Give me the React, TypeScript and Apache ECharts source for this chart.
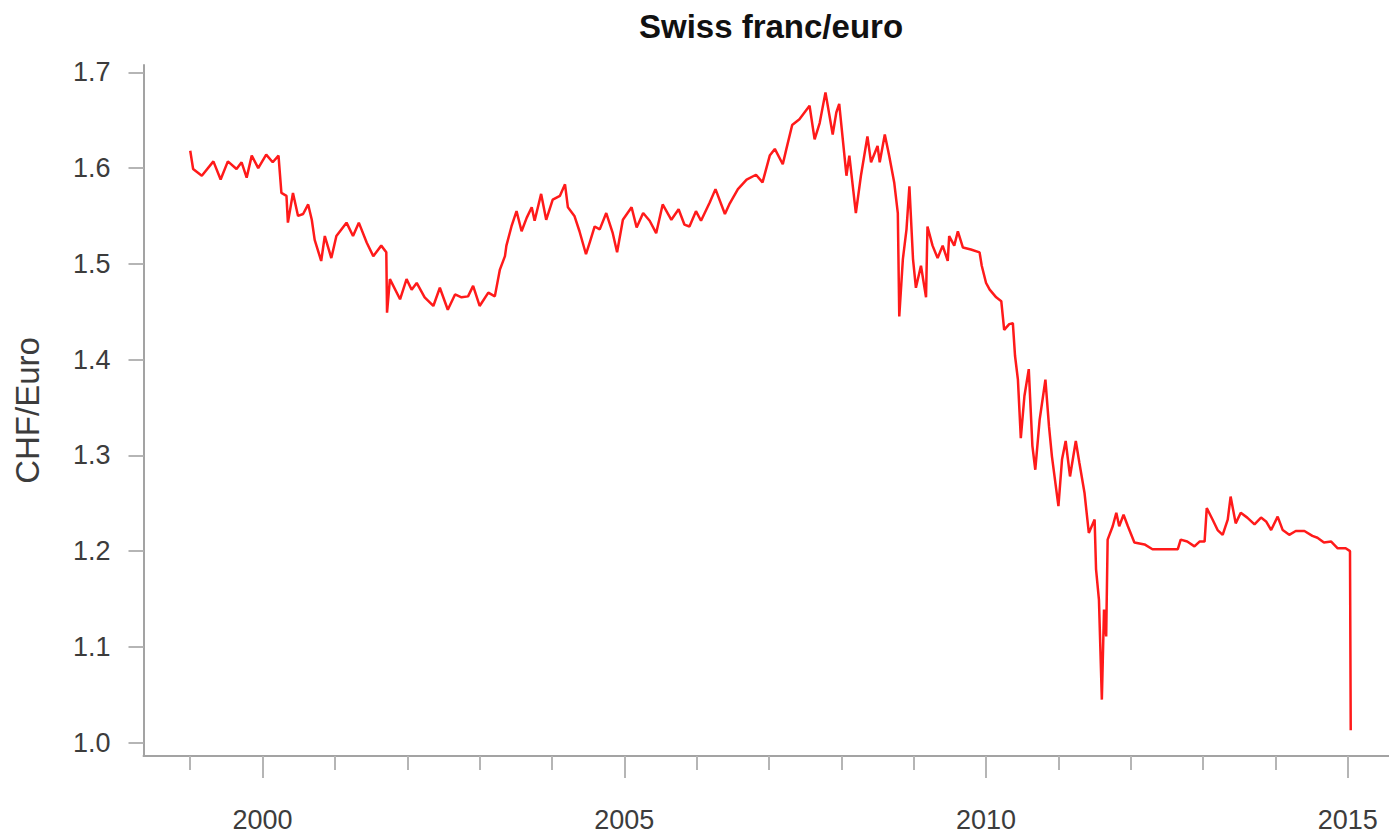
import React, { useEffect, useRef } from "react";
import * as echarts from "echarts";

const years: number[] = [
  1999.0, 1999.04, 1999.16, 1999.32, 1999.42, 1999.52, 1999.64, 1999.71, 1999.78, 1999.85, 1999.94,
  2000.05, 2000.14, 2000.22, 2000.26, 2000.33, 2000.35, 2000.42, 2000.49, 2000.56, 2000.63, 2000.68,
  2000.72, 2000.81, 2000.86, 2000.95, 2001.02, 2001.16, 2001.25, 2001.33, 2001.44, 2001.53, 2001.64,
  2001.71, 2001.72, 2001.76, 2001.9, 2001.99, 2002.06, 2002.13, 2002.24, 2002.36, 2002.45, 2002.56,
  2002.66, 2002.75, 2002.84, 2002.91, 2003.0, 2003.12, 2003.21, 2003.28, 2003.35, 2003.37, 2003.44,
  2003.51, 2003.58, 2003.65, 2003.72, 2003.76, 2003.85, 2003.92, 2004.01, 2004.11, 2004.18, 2004.22,
  2004.31, 2004.38, 2004.47, 2004.52, 2004.59, 2004.66, 2004.75, 2004.84, 2004.9, 2004.98, 2005.1,
  2005.17, 2005.26, 2005.35, 2005.44, 2005.53, 2005.65, 2005.75, 2005.83, 2005.9, 2005.99, 2006.06,
  2006.18, 2006.26, 2006.39, 2006.45, 2006.57, 2006.69, 2006.82, 2006.91, 2007.01, 2007.08, 2007.19,
  2007.24, 2007.32, 2007.42, 2007.49, 2007.56, 2007.63, 2007.7, 2007.78, 2007.88, 2007.93, 2007.97,
  2008.07, 2008.11, 2008.2, 2008.27, 2008.36, 2008.41, 2008.5, 2008.53, 2008.6, 2008.66, 2008.73,
  2008.78, 2008.8, 2008.85, 2008.9, 2008.94, 2008.99, 2009.03, 2009.1, 2009.17, 2009.19, 2009.26,
  2009.33, 2009.4, 2009.47, 2009.49, 2009.56, 2009.61, 2009.68, 2009.79, 2009.91, 2009.94, 2010.0,
  2010.05, 2010.14, 2010.21, 2010.25, 2010.32, 2010.37, 2010.4, 2010.44, 2010.48, 2010.53, 2010.59,
  2010.64, 2010.68, 2010.74, 2010.82, 2010.87, 2010.91, 2011.0, 2011.05, 2011.1, 2011.16, 2011.24,
  2011.29, 2011.36, 2011.42, 2011.5, 2011.52, 2011.56, 2011.6, 2011.63, 2011.66, 2011.68, 2011.75,
  2011.8, 2011.84, 2011.9, 2011.96, 2012.05, 2012.19, 2012.3, 2012.65, 2012.69, 2012.78, 2012.88,
  2012.95, 2013.02, 2013.05, 2013.13, 2013.2, 2013.27, 2013.34, 2013.38, 2013.45, 2013.52, 2013.61,
  2013.71, 2013.8, 2013.87, 2013.94, 2014.03, 2014.1, 2014.19, 2014.28, 2014.4, 2014.51, 2014.58,
  2014.67, 2014.77, 2014.86, 2014.97, 2015.03, 2015.04,
];

// CHF per euro at each observation
const rates: number[] = [
  1.618, 1.599, 1.592, 1.607, 1.588, 1.607, 1.599, 1.606, 1.59, 1.613, 1.6,
  1.614, 1.606, 1.613, 1.574, 1.571, 1.543, 1.574, 1.55, 1.552, 1.562, 1.546,
  1.525, 1.503, 1.529, 1.506, 1.529, 1.543, 1.529, 1.543, 1.522, 1.508, 1.519,
  1.512, 1.449, 1.484, 1.463, 1.484, 1.473, 1.48, 1.465, 1.456, 1.475, 1.452,
  1.468, 1.465, 1.466, 1.477, 1.456, 1.47, 1.466, 1.494, 1.508, 1.519, 1.539,
  1.555, 1.534, 1.548, 1.559, 1.545, 1.573, 1.546, 1.567, 1.571, 1.583, 1.559,
  1.55, 1.534, 1.51, 1.522, 1.539, 1.536, 1.553, 1.532, 1.512, 1.546, 1.559,
  1.538, 1.553, 1.545, 1.532, 1.562, 1.546, 1.557, 1.541, 1.539, 1.555, 1.545,
  1.564, 1.578, 1.552, 1.562, 1.578, 1.588, 1.593, 1.585, 1.613, 1.62, 1.604,
  1.62, 1.645, 1.651, 1.658, 1.665, 1.63, 1.647, 1.679, 1.635, 1.658, 1.667,
  1.592, 1.613, 1.553, 1.592, 1.633, 1.606, 1.623, 1.606, 1.635, 1.613, 1.585,
  1.553, 1.445, 1.505, 1.536, 1.581, 1.505, 1.475, 1.498, 1.465, 1.539, 1.519,
  1.506, 1.519, 1.503, 1.529, 1.519, 1.534, 1.517, 1.515, 1.512, 1.498, 1.48,
  1.473, 1.465, 1.461, 1.431, 1.437, 1.438, 1.404, 1.379, 1.318, 1.362, 1.39,
  1.31, 1.285, 1.337, 1.379, 1.33, 1.299, 1.247, 1.296, 1.315, 1.278, 1.315,
  1.292, 1.261, 1.219, 1.233, 1.181, 1.149, 1.045, 1.139, 1.111, 1.212, 1.226,
  1.24, 1.226, 1.238, 1.226, 1.209, 1.207, 1.202, 1.202, 1.212, 1.21, 1.205,
  1.21, 1.21, 1.245, 1.233, 1.222, 1.217, 1.233, 1.257, 1.229, 1.24, 1.235,
  1.228, 1.235, 1.231, 1.222, 1.236, 1.222, 1.217, 1.221, 1.221, 1.216, 1.214,
  1.209, 1.21, 1.203, 1.203, 1.2, 1.013,
];

const yearTicks: number[] = [1999, 2000, 2001, 2002, 2003, 2004, 2005, 2006, 2007, 2008, 2009, 2010, 2011, 2012, 2013, 2014, 2015];
const yearLabels: number[] = [2000, 2005, 2010, 2015];
const rateTicks: number[] = [1.0, 1.1, 1.2, 1.3, 1.4, 1.5, 1.6, 1.7];

const FONT = "'Liberation Sans', Arial, Helvetica, sans-serif";
const AXIS_GRAY = "#a3a3a3";
const LABEL_COLOR = "#3c3c3c";

export default function App() {
  const ref = useRef<HTMLDivElement>(null);

  useEffect(() => {
    if (!ref.current) return;
    const chart = echarts.init(ref.current, undefined, { renderer: "svg" });
    const data = years.map((y, i) => [y, rates[i]]);
    const xMin = 1998.354;
    const xMax = 2015.569;
    chart.setOption({
      animation: false,
      backgroundColor: "#ffffff",
      title: {
        text: "Swiss franc/euro",
        left: 766,
        top: 5,
        textAlign: "center",
        textStyle: { fontFamily: FONT, fontSize: 33, fontWeight: "bold", color: "#111111" },
      },
      grid: { left: 143.5, right: 0, top: 65, bottom: 81, containLabel: false },
      xAxis: [
        {
          type: "value",
          position: "bottom",
          min: xMin,
          max: xMax,
          axisLine: { show: true, onZero: false, lineStyle: { color: AXIS_GRAY, width: 2 } },
          axisTick: { show: true, customValues: yearTicks, length: 14, lineStyle: { color: "#b5b5b5", width: 2 } },
          axisLabel: { show: false },
          splitLine: { show: false },
        },
        {
          type: "value",
          position: "bottom",
          min: xMin,
          max: xMax,
          axisLine: { show: false, onZero: false },
          axisTick: { show: true, customValues: yearLabels, length: 22, lineStyle: { color: "#b5b5b5", width: 2 } },
          axisLabel: {
            show: true,
            customValues: yearLabels,
            margin: 50,
            fontSize: 27,
            fontFamily: FONT,
            color: LABEL_COLOR,
            formatter: (v: number) => String(Math.round(v)),
          },
          splitLine: { show: false },
        },
      ],
      yAxis: {
        type: "value",
        min: 0.9861,
        max: 1.7076,
        name: "CHF/Euro",
        nameLocation: "middle",
        nameRotate: 90,
        nameGap: 100,
        nameTextStyle: { fontFamily: FONT, fontSize: 33, color: LABEL_COLOR },
        axisLine: { show: true, onZero: false, lineStyle: { color: AXIS_GRAY, width: 2 } },
        axisTick: { show: true, customValues: rateTicks, length: 15, lineStyle: { color: "#b5b5b5", width: 2 } },
        axisLabel: {
          show: true,
          customValues: rateTicks,
          margin: 33,
          fontSize: 27,
          fontFamily: FONT,
          color: LABEL_COLOR,
          formatter: (v: number) => v.toFixed(1),
        },
        splitLine: { show: false },
      },
      series: [
        {
          type: "line",
          xAxisIndex: 0,
          yAxisIndex: 0,
          data,
          showSymbol: false,
          symbol: "none",
          lineStyle: { color: "#ff1a1a", width: 2.5 },
        },
      ],
    });
    return () => chart.dispose();
  }, []);

  return (
    <div
      ref={ref}
      style={{ position: "absolute", left: 0, top: 0, width: 1389, height: 837, background: "#fff" }}
    />
  );
}
